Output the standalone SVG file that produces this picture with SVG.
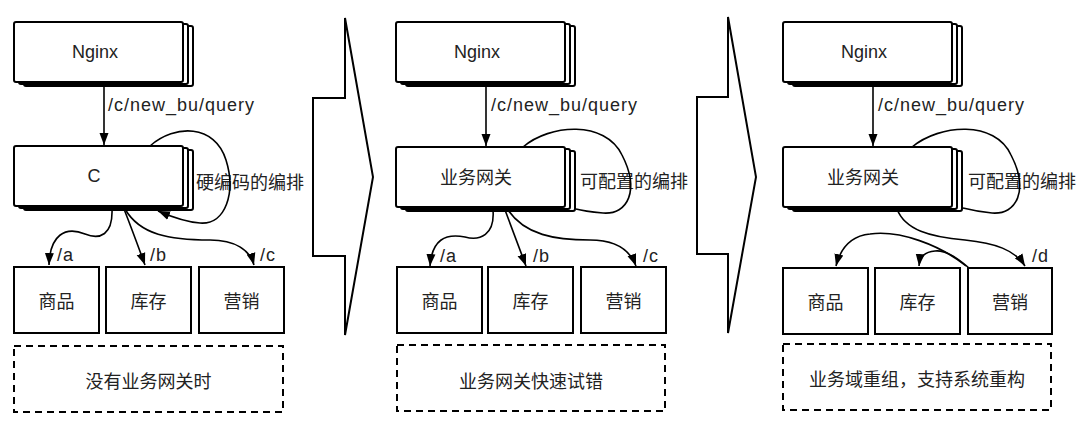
<svg xmlns="http://www.w3.org/2000/svg" width="1080" height="425" viewBox="0 0 1080 425">
<style>
.box{fill:#fff;stroke:#000;stroke-width:2}
.dash{fill:none;stroke:#000;stroke-width:2;stroke-dasharray:7 5}
.shape{fill:none;stroke:#000;stroke-width:2;stroke-linejoin:miter}
.edge{fill:none;stroke:#000;stroke-width:1.6}
.t{font-family:"Liberation Sans","Noto Sans CJK SC",sans-serif;font-size:18px;fill:#222}
.lbl{font-family:"Liberation Sans","Noto Sans CJK SC",sans-serif;font-size:18px;fill:#222;letter-spacing:1px}
.m{text-anchor:middle}
</style>
<defs>
<marker id="ah" markerUnits="userSpaceOnUse" markerWidth="14" markerHeight="10" refX="12" refY="5" orient="auto">
<path d="M0,0.5 L12,5 L0,9.5 Z" fill="#000"/>
</marker>
<g id="stack">
<rect x="10" y="4" width="169" height="60" rx="2" class="box"/>
<rect x="5" y="2" width="169" height="60" rx="2" class="box"/>
<rect x="0" y="0" width="169" height="60" rx="2" class="box"/>
</g>
</defs>

<!-- separators -->
<g id="sep1"><path class="shape" d="M313,98 H345 V18 L373,177 L345,335 V256 H313 Z"/></g>
<g id="sep2"><path class="shape" d="M697,97 H728 V17 L756,177 L728,333 V254 H697 Z"/></g>

<!-- Panel 1 -->
<g id="p1-nginx"><use href="#stack" x="14" y="22"/><text class="t m" x="95" y="58">Nginx</text></g>
<g id="p1-c"><use href="#stack" x="14" y="146"/><text class="t m" x="94" y="182">C</text></g>
<g id="p1-goods"><rect class="box" x="14" y="267" width="85" height="66"/><text class="t m" x="56.5" y="308">商品</text></g>
<g id="p1-stock"><rect class="box" x="106" y="267" width="85" height="66"/><text class="t m" x="148.5" y="308">库存</text></g>
<g id="p1-mkt"><rect class="box" x="199" y="267" width="85" height="66"/><text class="t m" x="241.5" y="308">营销</text></g>
<g id="p1-note"><rect class="dash" x="14" y="346" width="269" height="66"/><text class="t m" x="148.5" y="388">没有业务网关时</text></g>
<text class="t" x="196" y="189">硬编码的编排</text>

<!-- Panel 2 -->
<g id="p2-nginx"><use href="#stack" x="396" y="22"/><text class="t m" x="477" y="58">Nginx</text></g>
<g id="p2-gw"><use href="#stack" x="396" y="147"/><text class="t m" x="476" y="184">业务网关</text></g>
<g id="p2-goods"><rect class="box" x="397" y="267" width="85" height="66"/><text class="t m" x="439.5" y="308">商品</text></g>
<g id="p2-stock"><rect class="box" x="488" y="267" width="85" height="66"/><text class="t m" x="530.5" y="308">库存</text></g>
<g id="p2-mkt"><rect class="box" x="581" y="267" width="85" height="66"/><text class="t m" x="623.5" y="308">营销</text></g>
<g id="p2-note"><rect class="dash" x="397" y="345" width="268" height="66"/><text class="t m" x="531" y="388">业务网关快速试错</text></g>
<text class="t" x="580" y="188">可配置的编排</text>

<!-- Panel 3 -->
<g id="p3-nginx"><use href="#stack" x="783" y="22"/><text class="t m" x="864" y="58">Nginx</text></g>
<g id="p3-gw"><use href="#stack" x="783" y="147"/><text class="t m" x="863" y="184">业务网关</text></g>
<g id="p3-goods"><rect class="box" x="783" y="268" width="85" height="66"/><text class="t m" x="825.5" y="309">商品</text></g>
<g id="p3-stock"><rect class="box" x="875" y="268" width="85" height="66"/><text class="t m" x="917.5" y="309">库存</text></g>
<g id="p3-mkt"><rect class="box" x="968" y="268" width="84" height="66"/><text class="t m" x="1010" y="309">营销</text></g>
<g id="p3-note"><rect class="dash" x="783" y="344" width="268" height="66"/><text class="t m" x="917" y="386">业务域重组，支持系统重构</text></g>
<text class="t" x="968" y="188">可配置的编排</text>

<!-- connectors -->
<g id="connectors">
<path class="edge" d="M104,83 V145" marker-end="url(#ah)"/>
<path class="edge" d="M150,146 C175,124 215,124 226,160 C236,192 226,225 200,223 C185,222 172,217 158,211" marker-end="url(#ah)"/>
<path class="edge" d="M112,209 C113,235 100,240 85,234 C65,226 50,235 49,265" marker-end="url(#ah)"/>
<path class="edge" d="M124,209 Q133,232 145,265" marker-end="url(#ah)"/>
<path class="edge" d="M125,209 C140,235 170,240 210,240 C235,240 250,250 254,265" marker-end="url(#ah)"/>

<path class="edge" d="M486,83 V146" marker-end="url(#ah)"/>
<path class="edge" d="M523,147 C550,124 605,120 622,155 C640,190 628,215 603,213 C592,212 583,211 576,209"/>
<path class="edge" d="M493,210 C495,235 480,241 465,237 C445,233 432,240 430,266" marker-end="url(#ah)"/>
<path class="edge" d="M505,210 Q514,234 526,266" marker-end="url(#ah)"/>
<path class="edge" d="M508,210 C525,235 555,240 590,240 C615,240 630,250 636,266" marker-end="url(#ah)"/>

<path class="edge" d="M873,83 V146" marker-end="url(#ah)"/>
<path class="edge" d="M912,147 C940,124 995,120 1011,155 C1029,190 1017,215 992,213 C981,212 971,210 963,208"/>
<path class="edge" d="M897,209 C905,230 930,237 965,240 C995,243 1015,250 1025,266" marker-end="url(#ah)"/>
<path class="edge" d="M966,266 C940,245 900,230 870,234 C850,236 840,250 836,266" marker-end="url(#ah)"/>
<path class="edge" d="M969,268 C955,256 945,250 935,251 C925,252 920,256 919,266" marker-end="url(#ah)"/>
</g>

<!-- connector labels -->
<g id="labels">
<text class="lbl" x="108" y="111">/c/new_bu/query</text>
<text class="lbl" x="491" y="111">/c/new_bu/query</text>
<text class="lbl" x="878" y="111">/c/new_bu/query</text>
<text class="lbl" x="57" y="261">/a</text>
<text class="lbl" x="150" y="261">/b</text>
<text class="lbl" x="260" y="261">/c</text>
<text class="lbl" x="440" y="262">/a</text>
<text class="lbl" x="533" y="262">/b</text>
<text class="lbl" x="643" y="262">/c</text>
<text class="lbl" x="1032" y="262">/d</text>
</g>
</svg>
